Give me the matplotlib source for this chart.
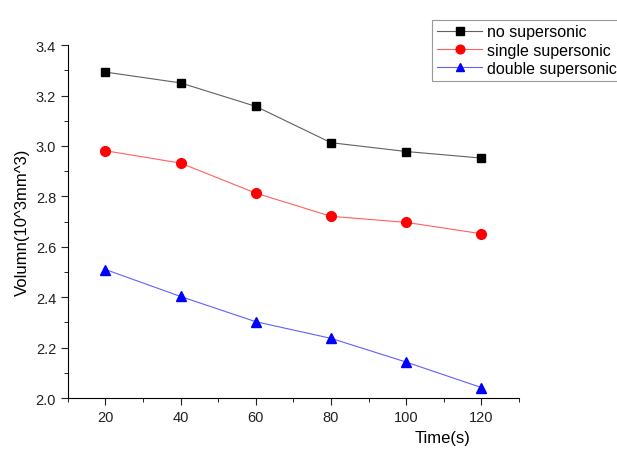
import matplotlib
matplotlib.use("Agg")
import matplotlib.pyplot as plt
from matplotlib.ticker import MultipleLocator

plt.rcParams['font.family'] = ['Liberation Sans', 'DejaVu Sans']

# andmed
aeg = [20, 40, 60, 80, 100, 120]
no_super = [3.293, 3.250, 3.157, 3.013, 2.978, 2.952]
single_super = [2.981, 2.932, 2.813, 2.721, 2.697, 2.652]
double_super = [2.510, 2.403, 2.303, 2.237, 2.143, 2.042]

fig = plt.figure(figsize=(6.17, 4.52), dpi=100)
ax = fig.add_axes([0.110, 0.117, 0.731, 0.781])

ax.plot(aeg, no_super, color='#606060', lw=0.8, marker='s', ms=6,
        mfc='black', mec='black', label='no supersonic')
ax.plot(aeg, single_super, color='#ff6060', lw=0.8, marker='o', ms=7,
        mfc='red', mec='red', label='single supersonic')
ax.plot(aeg, double_super, color='#6060ff', lw=0.8, marker='^', ms=7,
        mfc='blue', mec='blue', label='double supersonic')

ax.set_xlim(10, 130)
ax.set_ylim(2.0, 3.4)
ax.xaxis.set_major_locator(MultipleLocator(20))
ax.xaxis.set_minor_locator(MultipleLocator(10))
ax.yaxis.set_major_locator(MultipleLocator(0.2))
ax.yaxis.set_minor_locator(MultipleLocator(0.1))
ax.yaxis.set_major_formatter(plt.FormatStrFormatter('%.1f'))
ax.spines['top'].set_visible(False)
ax.spines['right'].set_visible(False)
ax.tick_params(which='major', direction='out', length=5, labelsize=10.5, colors='#222222')
ax.tick_params(which='minor', direction='out', length=3)

ax.set_ylabel('Volumn(10^3mm^3)', fontsize=12)
ax.set_xlabel('Time(s)', fontsize=12)
ax.xaxis.set_label_coords(0.83, -0.09)

leg = fig.legend(loc='upper left', bbox_to_anchor=(0.688, 0.972), fontsize=11.5,
                 frameon=True, fancybox=False, edgecolor='#808080',
                 handlelength=2.8, borderpad=0.3, labelspacing=0.2, handletextpad=0.3,
                 markerscale=0.9)
leg.get_frame().set_linewidth(0.8)

fig.savefig('out.png', dpi=100)
